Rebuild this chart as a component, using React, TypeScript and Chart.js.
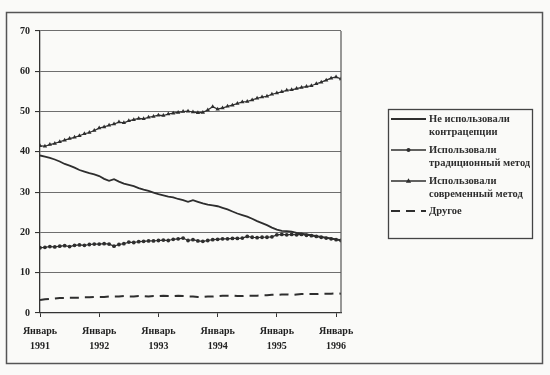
import { useEffect, useRef } from 'react';
import { Chart, registerables } from 'chart.js';
Chart.register(...registerables);

const notUsed = [
  39.1, 38.8, 38.5, 38.1, 37.6, 37.0, 36.6, 36.1, 35.5, 35.1,
  34.7, 34.4, 34.0, 33.3, 32.8, 33.2, 32.6, 32.1, 31.8, 31.5,
  31.0, 30.6, 30.3, 29.9, 29.5, 29.2, 28.9, 28.7, 28.3, 28.0,
  27.6, 28.0, 27.6, 27.2, 26.9, 26.7, 26.5, 26.1, 25.7, 25.2,
  24.7, 24.3, 23.9, 23.4, 22.8, 22.3, 21.8, 21.2, 20.7, 20.4,
  20.3, 20.2, 19.9, 19.7, 19.5, 19.3, 19.1, 18.9, 18.7, 18.5,
  18.3, 18.1,
];
const traditional = [
  16.2, 16.3, 16.5, 16.4, 16.6, 16.7, 16.5, 16.8, 16.9, 16.8,
  17.0, 17.1, 17.1, 17.2, 17.1, 16.6, 17.0, 17.2, 17.6, 17.5,
  17.7, 17.8, 17.9, 17.9, 18.0, 18.1, 18.0, 18.3, 18.4, 18.6,
  18.0, 18.2, 17.9, 17.8, 18.0, 18.2, 18.3, 18.4, 18.4, 18.5,
  18.5, 18.6, 19.0, 18.8, 18.7, 18.8, 18.8, 18.9, 19.4, 19.5,
  19.4, 19.5, 19.4, 19.5, 19.3, 19.2, 19.0, 18.8, 18.6, 18.4,
  18.2, 18.0,
];
const modern = [
  41.5, 41.4, 41.8, 42.1, 42.5, 42.9, 43.3, 43.6, 44.0, 44.5,
  44.8, 45.3, 45.9, 46.2, 46.6, 46.9, 47.4, 47.2, 47.7, 48.0,
  48.3, 48.2, 48.6, 48.8, 49.1, 49.0, 49.4, 49.6, 49.8, 50.0,
  50.1, 49.9, 49.7, 49.8, 50.4, 51.2, 50.6, 50.9, 51.3, 51.6,
  52.0, 52.4, 52.5, 52.9, 53.3, 53.6, 53.8, 54.3, 54.6, 54.9,
  55.3, 55.4, 55.7, 56.0, 56.2, 56.4, 56.9, 57.3, 57.8, 58.3,
  58.6, 58.1,
];
const other = [
  3.2, 3.4, 3.5, 3.6, 3.7, 3.7, 3.8, 3.8, 3.8, 3.9,
  3.9, 4.0, 4.0, 4.0, 4.1, 4.1, 4.1, 4.2, 4.1, 4.1,
  4.2, 4.2, 4.1, 4.2, 4.2, 4.3, 4.2, 4.2, 4.3, 4.2,
  4.1, 4.1, 4.0, 4.0, 4.1, 4.1, 4.2, 4.3, 4.3, 4.3,
  4.2, 4.2, 4.3, 4.3, 4.3, 4.4, 4.4, 4.5, 4.5, 4.6,
  4.6, 4.5, 4.6, 4.7, 4.7, 4.7, 4.7, 4.8, 4.8, 4.8,
  4.9, 4.8,
];
const yearTickMonths = [0, 12, 24, 36, 48, 60];
const yearLabels = ['1991', '1992', '1993', '1994', '1995', '1996'];
const monthWord = 'Январь';
const seriesNames = [
  ['Не использовали', 'контрацепции'],
  ['Использовали', 'традиционный метод'],
  ['Использовали', 'современный метод'],
  ['Другое'],
];

const INK = '#2e2e2e';
const FONT = '"Liberation Serif", "DejaVu Serif", serif';

const toPoints = (arr: number[]) => arr.map((v, i) => ({ x: i, y: v }));

const framePlugin = {
  id: 'frame',
  beforeDraw(chart: any) {
    const ctx = chart.ctx;
    ctx.save();
    ctx.fillStyle = '#fafaf8';
    ctx.fillRect(0, 0, chart.width, chart.height);
    ctx.strokeStyle = '#555';
    ctx.lineWidth = 1.5;
    ctx.strokeRect(6.5, 12.5, 536, 351);
    ctx.restore();
  },
  afterDraw(chart: any) {
    const ctx = chart.ctx;
    const a = chart.chartArea;
    ctx.save();
    ctx.strokeStyle = '#555';
    ctx.lineWidth = 1.2;
    ctx.beginPath();
    ctx.moveTo(a.right, a.top);
    ctx.lineTo(a.right, a.bottom);
    ctx.stroke();

    // legend box
    const bx = 388, by = 109, bw = 144, bh = 129;
    ctx.fillStyle = '#fafaf8';
    ctx.fillRect(bx, by, bw, bh);
    ctx.strokeStyle = '#444';
    ctx.lineWidth = 1.3;
    ctx.strokeRect(bx + 0.5, by + 0.5, bw, bh);

    const entryY = [119, 150, 181, 211];
    const x1 = 391, x2 = 426, tx = 429;
    ctx.font = `bold 10.5px ${FONT}`;
    ctx.textBaseline = 'middle';
    ctx.textAlign = 'left';
    seriesNames.forEach((lines, i) => {
      const y = entryY[i];
      ctx.strokeStyle = INK;
      ctx.fillStyle = INK;
      ctx.lineWidth = i === 0 ? 1.8 : i === 3 ? 2 : 1.3;
      ctx.setLineDash(i === 3 ? [9, 6] : []);
      ctx.beginPath();
      ctx.moveTo(x1, y);
      ctx.lineTo(x2, y);
      ctx.stroke();
      ctx.setLineDash([]);
      const mx = (x1 + x2) / 2;
      if (i === 1) {
        ctx.beginPath();
        ctx.arc(mx, y, 2, 0, Math.PI * 2);
        ctx.fill();
      } else if (i === 2) {
        ctx.beginPath();
        ctx.moveTo(mx, y - 2.8);
        ctx.lineTo(mx + 2.6, y + 1.8);
        ctx.lineTo(mx - 2.6, y + 1.8);
        ctx.closePath();
        ctx.fill();
      }
      lines.forEach((t, j) => {
        ctx.fillText(t, tx, y + j * 13);
      });
    });
    ctx.restore();
  },
};

export default function App() {
  const ref = useRef<HTMLCanvasElement>(null);
  useEffect(() => {
    if (!ref.current) return;
    const chart = new Chart(ref.current, {
      type: 'line',
      data: {
        datasets: [
          {
            label: seriesNames[0].join(' '),
            data: toPoints(notUsed),
            borderColor: INK,
            borderWidth: 1.8,
            pointRadius: 0,
            tension: 0,
          },
          {
            label: seriesNames[1].join(' '),
            data: toPoints(traditional),
            borderColor: INK,
            backgroundColor: INK,
            borderWidth: 1.2,
            pointRadius: 1.9,
            pointStyle: 'circle',
            pointBorderWidth: 0,
            tension: 0,
          },
          {
            label: seriesNames[2].join(' '),
            data: toPoints(modern),
            borderColor: INK,
            backgroundColor: INK,
            borderWidth: 1.2,
            pointRadius: 2.5,
            pointStyle: 'triangle',
            pointBorderWidth: 0,
            tension: 0,
          },
          {
            label: seriesNames[3].join(' '),
            data: toPoints(other),
            borderColor: INK,
            borderWidth: 2,
            borderDash: [9, 6],
            pointRadius: 0,
            tension: 0,
          },
        ],
      },
      options: {
        animation: false,
        responsive: false,
        events: [],
        layout: { padding: { left: 0, top: 31, right: 209, bottom: 0 } },
        plugins: {
          legend: { display: false },
          tooltip: { enabled: false },
        },
        scales: {
          x: {
            type: 'linear',
            min: 0,
            max: 61,
            afterFit: (s: any) => { s.height = 62; },
            afterBuildTicks: (s: any) => {
              s.ticks = yearTickMonths.map((v) => ({ value: v }));
            },
            grid: {
              drawOnChartArea: false,
              drawTicks: true,
              tickLength: 4,
              color: '#333',
              lineWidth: 1,
            },
            border: { color: '#333', width: 1.3 },
            ticks: {
              autoSkip: false,
              maxRotation: 0,
              padding: 7,
              color: '#222',
              font: { family: FONT, size: 10, weight: 'bold', lineHeight: 1.5 },
              callback: (v: any) => {
                const i = yearTickMonths.indexOf(Number(v));
                return i >= 0 ? [monthWord, yearLabels[i]] : '';
              },
            },
          },
          y: {
            min: 0,
            max: 70,
            afterFit: (s: any) => { s.width = 40; },
            grid: {
              color: '#6e6e6e',
              lineWidth: 1.1,
              drawTicks: true,
              tickLength: 5,
              tickColor: '#333',
            },
            border: { color: '#333', width: 1.3 },
            ticks: {
              stepSize: 10,
              padding: 5,
              color: '#222',
              font: { family: FONT, size: 10, weight: 'bold' },
            },
          },
        },
      },
      plugins: [framePlugin],
    } as any);
    return () => chart.destroy();
  }, []);
  return (
    <div style={{ position: 'fixed', left: 0, top: 0, width: 550, height: 375 }}>
      <canvas ref={ref} width={550} height={375} style={{ display: 'block' }} />
    </div>
  );
}
